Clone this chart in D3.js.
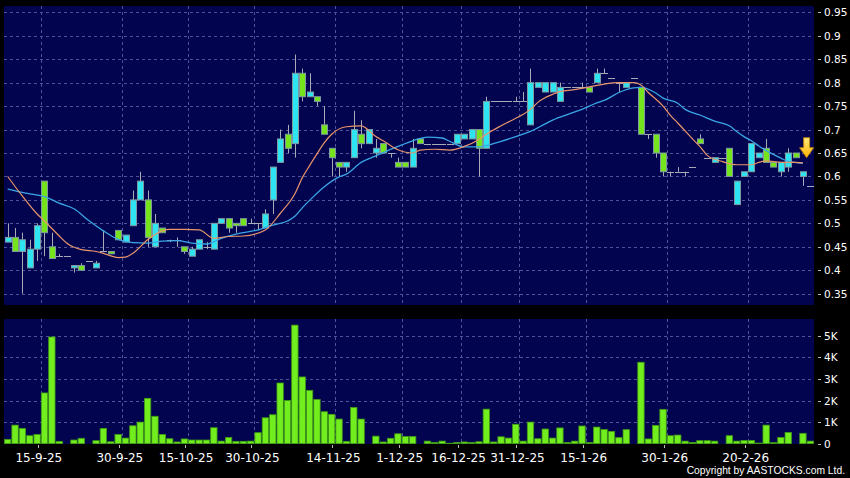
<!DOCTYPE html>
<html><head><meta charset="utf-8">
<script src="https://cdn.jsdelivr.net/npm/d3@7/dist/d3.min.js"></script>
<style>html,body{margin:0;padding:0;background:#000;}svg{display:block}</style>
</head><body><svg id="c" width="850" height="478"></svg>
<script>
// ---------- DATA ----------
const dates = ["9-9-25","10-9-25","11-9-25","12-9-25","15-9-25","16-9-25","17-9-25","18-9-25","19-9-25","22-9-25",
"23-9-25","24-9-25","25-9-25","26-9-25","29-9-25","30-9-25","2-10-25","3-10-25","6-10-25","8-10-25",
"9-10-25","10-10-25","13-10-25","14-10-25","15-10-25","16-10-25","17-10-25","20-10-25","21-10-25","22-10-25",
"23-10-25","27-10-25","28-10-25","30-10-25","31-10-25","3-11-25","4-11-25","5-11-25","6-11-25","7-11-25",
"10-11-25","11-11-25","12-11-25","13-11-25","14-11-25","17-11-25","18-11-25","20-11-25","21-11-25","24-11-25",
"25-11-25","27-11-25","28-11-25","1-12-25","2-12-25","3-12-25","5-12-25","8-12-25","10-12-25","11-12-25",
"15-12-25","16-12-25","17-12-25","18-12-25","19-12-25","22-12-25","24-12-25","29-12-25","30-12-25","31-12-25",
"2-1-26","5-1-26","7-1-26","8-1-26","9-1-26","12-1-26","13-1-26","14-1-26","15-1-26","16-1-26",
"19-1-26","20-1-26","21-1-26","22-1-26","23-1-26","26-1-26","27-1-26","28-1-26","29-1-26","30-1-26",
"2-2-26","3-2-26","4-2-26","5-2-26","6-2-26","9-2-26","10-2-26","12-2-26","13-2-26","16-2-26",
"20-2-26","23-2-26","24-2-26","25-2-26","26-2-26","27-2-26","2-3-26","3-3-26","4-3-26","5-3-26"];

const open  = [0.46,0.47,0.44,0.405,0.445,0.59,0.45,0.43,0.43,0.405, 0.41,0.42,0.405,0.44,0.44,0.485,0.46,0.495,0.55,0.55,
0.45,0.49,0.465,0.465,0.45,0.43,0.445,0.45,0.445,0.50, 0.51,0.50,0.51,0.50,0.50,0.49,0.55,0.63,0.69,0.67,
0.82,0.77,0.77,0.71,0.66,0.63,0.62,0.64,0.69,0.67, 0.65,0.67,0.65,0.63,0.63,0.62,0.68,0.67,0.67,0.67,
0.67,0.67,0.68,0.68,0.70,0.66,0.76,0.76,0.76,0.76, 0.76,0.71,0.79,0.78,0.78,0.76,0.79,0.79,0.79,0.79,
0.80,0.82,0.81,0.80,0.79,0.81,0.79,0.69,0.69,0.65, 0.61,0.61,0.61,0.62,0.68,0.64,0.63,0.64,0.66,0.54,
0.60,0.61,0.64,0.66,0.63,0.61,0.62,0.65,0.60,0.58];
const high  = [0.50,0.49,0.48,0.465,0.50,0.59,0.48,0.435,0.43,0.41, 0.415,0.42,0.42,0.485,0.44,0.485,0.475,0.57,0.61,0.57,
0.52,0.49,0.465,0.47,0.45,0.45,0.465,0.46,0.50,0.51, 0.51,0.50,0.51,0.51,0.50,0.53,0.62,0.70,0.71,0.86,
0.83,0.82,0.77,0.75,0.66,0.63,0.63,0.74,0.72,0.70, 0.68,0.67,0.65,0.64,0.63,0.68,0.68,0.67,0.67,0.67,
0.67,0.69,0.69,0.70,0.70,0.77,0.76,0.76,0.76,0.77, 0.78,0.83,0.80,0.80,0.80,0.80,0.79,0.79,0.80,0.79,
0.83,0.83,0.81,0.80,0.80,0.81,0.79,0.69,0.69,0.65, 0.61,0.62,0.61,0.62,0.69,0.64,0.64,0.64,0.66,0.59,
0.61,0.67,0.65,0.68,0.63,0.63,0.66,0.65,0.61,0.58];
const low   = [0.46,0.44,0.35,0.405,0.42,0.43,0.425,0.43,0.43,0.395, 0.40,0.42,0.405,0.44,0.435,0.465,0.46,0.495,0.55,0.45,
0.45,0.48,0.46,0.45,0.435,0.43,0.445,0.445,0.445,0.50, 0.48,0.48,0.495,0.50,0.485,0.49,0.52,0.63,0.65,0.64,
0.76,0.77,0.75,0.69,0.60,0.60,0.61,0.64,0.66,0.67, 0.64,0.65,0.64,0.62,0.62,0.62,0.67,0.67,0.67,0.67,
0.67,0.67,0.68,0.68,0.60,0.66,0.76,0.76,0.76,0.76, 0.76,0.71,0.79,0.78,0.78,0.76,0.79,0.79,0.79,0.78,
0.80,0.82,0.81,0.78,0.79,0.81,0.69,0.68,0.64,0.60, 0.60,0.61,0.60,0.62,0.67,0.64,0.63,0.64,0.60,0.54,
0.60,0.61,0.64,0.63,0.62,0.60,0.61,0.64,0.58,0.58];
const close = [0.47,0.44,0.465,0.445,0.495,0.48,0.425,0.43,0.43,0.41, 0.40,0.42,0.415,0.44,0.435,0.465,0.475,0.55,0.59,0.47,
0.50,0.48,0.465,0.465,0.44,0.445,0.465,0.45,0.50,0.51, 0.49,0.495,0.495,0.50,0.50,0.52,0.62,0.68,0.66,0.82,
0.77,0.78,0.76,0.69,0.64,0.62,0.63,0.70,0.67,0.70, 0.66,0.65,0.65,0.62,0.62,0.66,0.67,0.67,0.67,0.67,
0.67,0.69,0.69,0.70,0.66,0.76,0.76,0.76,0.76,0.76, 0.76,0.80,0.80,0.80,0.80,0.79,0.79,0.79,0.79,0.78,
0.82,0.82,0.81,0.80,0.80,0.81,0.69,0.69,0.65,0.61, 0.61,0.61,0.61,0.62,0.67,0.64,0.64,0.64,0.60,0.59,
0.61,0.67,0.65,0.63,0.62,0.63,0.65,0.64,0.61,0.58];
// volume, thousands
const volume = [0.2,0.86,0.71,0.37,0.43,2.35,4.94,0.11,0,0.17, 0.25,0,0.14,0.71,0.09,0.43,0.26,0.83,1.0,2.1,
1.27,0.43,0.23,0.08,0.22,0.17,0.17,0.17,0.74,0.12, 0.29,0.11,0.11,0.12,0.51,1.2,1.34,2.81,2.0,5.49,
3.09,2.47,2.05,1.48,1.36,1.14,0.11,1.68,1.14,0, 0.35,0.08,0.25,0.46,0.33,0.33,0,0.12,0.06,0.12,
0.02,0.06,0.08,0.06,0.09,1.6,0.08,0.32,0.26,0.9, 0.12,1.0,0.23,0.68,0.26,0.73,0.06,0.12,0.82,0.06,
0.77,0.66,0.57,0.28,0.65,0,3.77,0.22,0.85,1.59, 0.37,0.40,0.12,0.06,0.14,0.14,0.12,0,0.37,0.12,
0.15,0.15,0.03,0.86,0.05,0.29,0.52,0,0.48,0.12];

// moving averages (day index, value)
const ma10Days = [0,2,4,5,6,7,8,10,12,13,15,16,17,19,21,22,24,26,28,30,32,35,37,39,40,41,42,43,44,46,48,50,51,53,55,56,58,60,62,64,65,67,69,71,72,74,75,77,79,81,83,85,86,87,89,90,91,93,94,95,97,99,101,102,103,105,107,108];
const ma10Vals = [0.60,0.558,0.52,0.505,0.489,0.473,0.458,0.444,0.44,0.436,0.427,0.428,0.436,0.465,0.484,0.487,0.487,0.486,0.468,0.472,0.473,0.486,0.521,0.563,0.597,0.623,0.648,0.672,0.69,0.706,0.708,0.685,0.676,0.657,0.65,0.656,0.658,0.656,0.664,0.679,0.69,0.708,0.724,0.743,0.758,0.775,0.781,0.785,0.791,0.797,0.80,0.80,0.795,0.779,0.75,0.73,0.714,0.68,0.664,0.645,0.632,0.625,0.625,0.63,0.633,0.63,0.63,0.629];
const ma20Days = [0,2,3,5,7,9,11,13,15,17,19,21,23,25,27,29,31,34,36,38,39,40,41,43,45,46,48,50,51,53,55,57,59,60,62,64,65,67,69,71,73,74,76,78,80,81,83,85,86,88,89,91,92,94,96,98,99,100,101,102,103,105,106,108];
const ma20Vals = [0.573,0.566,0.563,0.557,0.543,0.531,0.506,0.484,0.466,0.459,0.458,0.462,0.463,0.458,0.456,0.468,0.477,0.486,0.496,0.505,0.515,0.533,0.549,0.578,0.599,0.605,0.63,0.644,0.651,0.664,0.676,0.684,0.682,0.675,0.663,0.663,0.666,0.675,0.685,0.696,0.712,0.72,0.732,0.743,0.757,0.762,0.779,0.789,0.79,0.778,0.767,0.756,0.743,0.731,0.718,0.708,0.696,0.685,0.676,0.665,0.655,0.639,0.632,0.628];

const priceTicks = [0.35,0.4,0.45,0.5,0.55,0.6,0.65,0.7,0.75,0.8,0.85,0.9,0.95];
const volTicks = [0,1,2,3,4,5];
const dateTicks = ["15-9-25","30-9-25","15-10-25","30-10-25","14-11-25","1-12-25","16-12-25","31-12-25","15-1-26","30-1-26","20-2-26"];
const arrowPrice = 0.64;
const copyright = "Copyright by AASTOCKS.com Ltd.";

// ---------- LAYOUT ----------
const svg = d3.select("#c");
const L = 4, R = 814;
const pTop = 6, pBot = 305, vTop = 319, vBot = 444;
const navy = "#02044f", grid = "#4d5598";
const x = d3.scaleBand().domain(dates).range([L, R]).padding(0);
const bw = x.bandwidth();
const cx = d => x(d) + bw / 2;
const y = d3.scaleLinear().domain([0.35, 0.95]).range([293.7, 12.3]);
const yv = d3.scaleLinear().domain([0, 5]).range([443.7, 335.7]);

svg.append("rect").attr("width", 850).attr("height", 478).attr("fill", "#000");
svg.append("rect").attr("x", L).attr("y", pTop).attr("width", R - L).attr("height", pBot - pTop).attr("fill", navy);
svg.append("rect").attr("x", L).attr("y", vTop).attr("width", R - L).attr("height", vBot - vTop).attr("fill", navy);

svg.append("clipPath").attr("id", "pc").append("rect").attr("x", L).attr("y", pTop).attr("width", R - L).attr("height", pBot - pTop);
svg.append("clipPath").attr("id", "vc").append("rect").attr("x", L).attr("y", vTop).attr("width", R - L).attr("height", vBot - vTop);

// grid
const gridX = d => x(d) + bw; // right edge of the labelled day
const g = svg.append("g").attr("stroke", grid).attr("stroke-width", 1).attr("stroke-dasharray", "3,3").attr("shape-rendering", "crispEdges");
g.selectAll(".hp").data(priceTicks).join("line")
  .attr("x1", L).attr("x2", R).attr("y1", d => Math.round(y(d)) + 0.5).attr("y2", d => Math.round(y(d)) + 0.5);
g.selectAll(".hv").data(volTicks.filter(v => v > 0)).join("line")
  .attr("x1", L).attr("x2", R).attr("y1", d => Math.round(yv(d)) + 0.5).attr("y2", d => Math.round(yv(d)) + 0.5);
g.selectAll(".vp").data(dateTicks).join("line")
  .attr("x1", d => Math.round(gridX(d)) + 0.5).attr("x2", d => Math.round(gridX(d)) + 0.5).attr("y1", pTop).attr("y2", pBot);
g.selectAll(".vv").data(dateTicks).join("line")
  .attr("x1", d => Math.round(gridX(d)) + 0.5).attr("x2", d => Math.round(gridX(d)) + 0.5).attr("y1", vTop).attr("y2", vBot);

// candles
const rows = dates.map((d, i) => ({d, o: open[i], h: high[i], l: low[i], c: close[i], v: volume[i]}));
const cg = svg.append("g").attr("clip-path", "url(#pc)");
cg.selectAll(".wick").data(rows).join("line")
  .attr("x1", d => Math.round(cx(d.d)) + 0.5).attr("x2", d => Math.round(cx(d.d)) + 0.5)
  .attr("y1", d => y(d.h)).attr("y2", d => y(d.l))
  .attr("stroke", "#a9aab8").attr("stroke-width", 1);
cg.selectAll(".body").data(rows.filter(r => r.o !== r.c)).join("rect")
  .attr("x", d => Math.round(cx(d.d)) - 2.5).attr("width", 6)
  .attr("y", d => y(Math.max(d.o, d.c))).attr("height", d => Math.max(1, y(Math.min(d.o, d.c)) - y(Math.max(d.o, d.c))))
  .attr("fill", d => d.c > d.o ? "#2ee4f0" : "#76e41c")
  .attr("stroke", "#7d98a0").attr("stroke-width", 1);
cg.selectAll(".dash").data(rows.filter(r => r.o === r.c)).join("line")
  .attr("x1", d => Math.round(cx(d.d)) - 3).attr("x2", d => Math.round(cx(d.d)) + 4)
  .attr("y1", d => Math.round(y(d.c)) + 0.5).attr("y2", d => Math.round(y(d.c)) + 0.5)
  .attr("stroke", "#a9aab8").attr("stroke-width", 1);

// moving averages
const line = d3.line().x(p => cx(dates[p[0]])).y(p => y(p[1])).curve(d3.curveMonotoneX);
cg.append("path").attr("d", line(ma20Days.map((k, i) => [k, ma20Vals[i]])))
  .attr("fill", "none").attr("stroke", "#3aa6e6").attr("stroke-width", 1.3);
cg.append("path").attr("d", line(ma10Days.map((k, i) => [k, ma10Vals[i]])))
  .attr("fill", "none").attr("stroke", "#e8956a").attr("stroke-width", 1.2);

// arrow marker
const ax = x(dates[dates.length - 2]) + bw, ay = y(arrowPrice);
const defs = svg.append("defs");
const lg = defs.append("linearGradient").attr("id", "ag").attr("x1", 0).attr("x2", 0).attr("y1", 0).attr("y2", 1);
lg.append("stop").attr("offset", "0").attr("stop-color", "#ffe97a");
lg.append("stop").attr("offset", "1").attr("stop-color", "#ffb300");
svg.append("path")
  .attr("d", `M${ax - 3},${ay - 20} L${ax + 3},${ay - 20} L${ax + 3},${ay - 10} L${ax + 7},${ay - 10} L${ax},${ay} L${ax - 7},${ay - 10} L${ax - 3},${ay - 10} Z`)
  .attr("fill", "url(#ag)").attr("stroke", "#c88a00").attr("stroke-width", 0.8);

// volume bars
const vg = svg.append("g").attr("clip-path", "url(#vc)");
vg.selectAll("rect").data(rows.filter(r => r.v > 0)).join("rect")
  .attr("x", d => x(d.d) + 0.5).attr("width", bw - 1)
  .attr("y", d => yv(d.v)).attr("height", d => yv(0) - yv(d.v))
  .attr("fill", "#72ee1e").attr("stroke", "#3f9a14").attr("stroke-width", 0.8);

// right axes
const fontF = "DejaVu Sans, Verdana, sans-serif";
const ra = svg.append("g");
ra.selectAll(".pt").data(priceTicks).join("line")
  .attr("x1", 818).attr("x2", 821).attr("y1", d => Math.round(y(d)) + 0.5).attr("y2", d => Math.round(y(d)) + 0.5)
  .attr("stroke", "#bbbbbb");
ra.selectAll(".pl").data(priceTicks).join("text")
  .attr("x", 824).attr("y", d => y(d) + 4).attr("fill", "#ffffff")
  .attr("font-family", fontF).attr("font-size", "10.5px").text(d => d3.format(".2~f")(d));
ra.selectAll(".vt").data(volTicks).join("line")
  .attr("x1", 818).attr("x2", 821).attr("y1", d => Math.round(yv(d)) + 0.5).attr("y2", d => Math.round(yv(d)) + 0.5)
  .attr("stroke", "#bbbbbb");
ra.selectAll(".vl").data(volTicks).join("text")
  .attr("x", 824).attr("y", d => yv(d) + 4).attr("fill", "#ffffff")
  .attr("font-family", fontF).attr("font-size", "10.5px").text(d => d === 0 ? "0" : d + "K");

// date axis
const da = svg.append("g");
da.selectAll("line").data(dateTicks).join("line")
  .attr("x1", d => Math.round(gridX(d)) - 2.5).attr("x2", d => Math.round(gridX(d)) - 2.5)
  .attr("y1", 445).attr("y2", 448).attr("stroke", "#bbbbbb");
da.selectAll("text").data(dateTicks).join("text")
  .attr("x", d => gridX(d) - 2).attr("y", 462).attr("text-anchor", "middle").attr("fill", "#ffffff")
  .attr("font-family", fontF).attr("font-size", "12px").text(d => d);

svg.append("text").attr("x", 845).attr("y", 474).attr("text-anchor", "end").attr("fill", "#ffffff")
  .attr("font-family", "Liberation Sans, Arial, sans-serif").attr("font-size", "10.3px").text(copyright);
</script></body></html>
